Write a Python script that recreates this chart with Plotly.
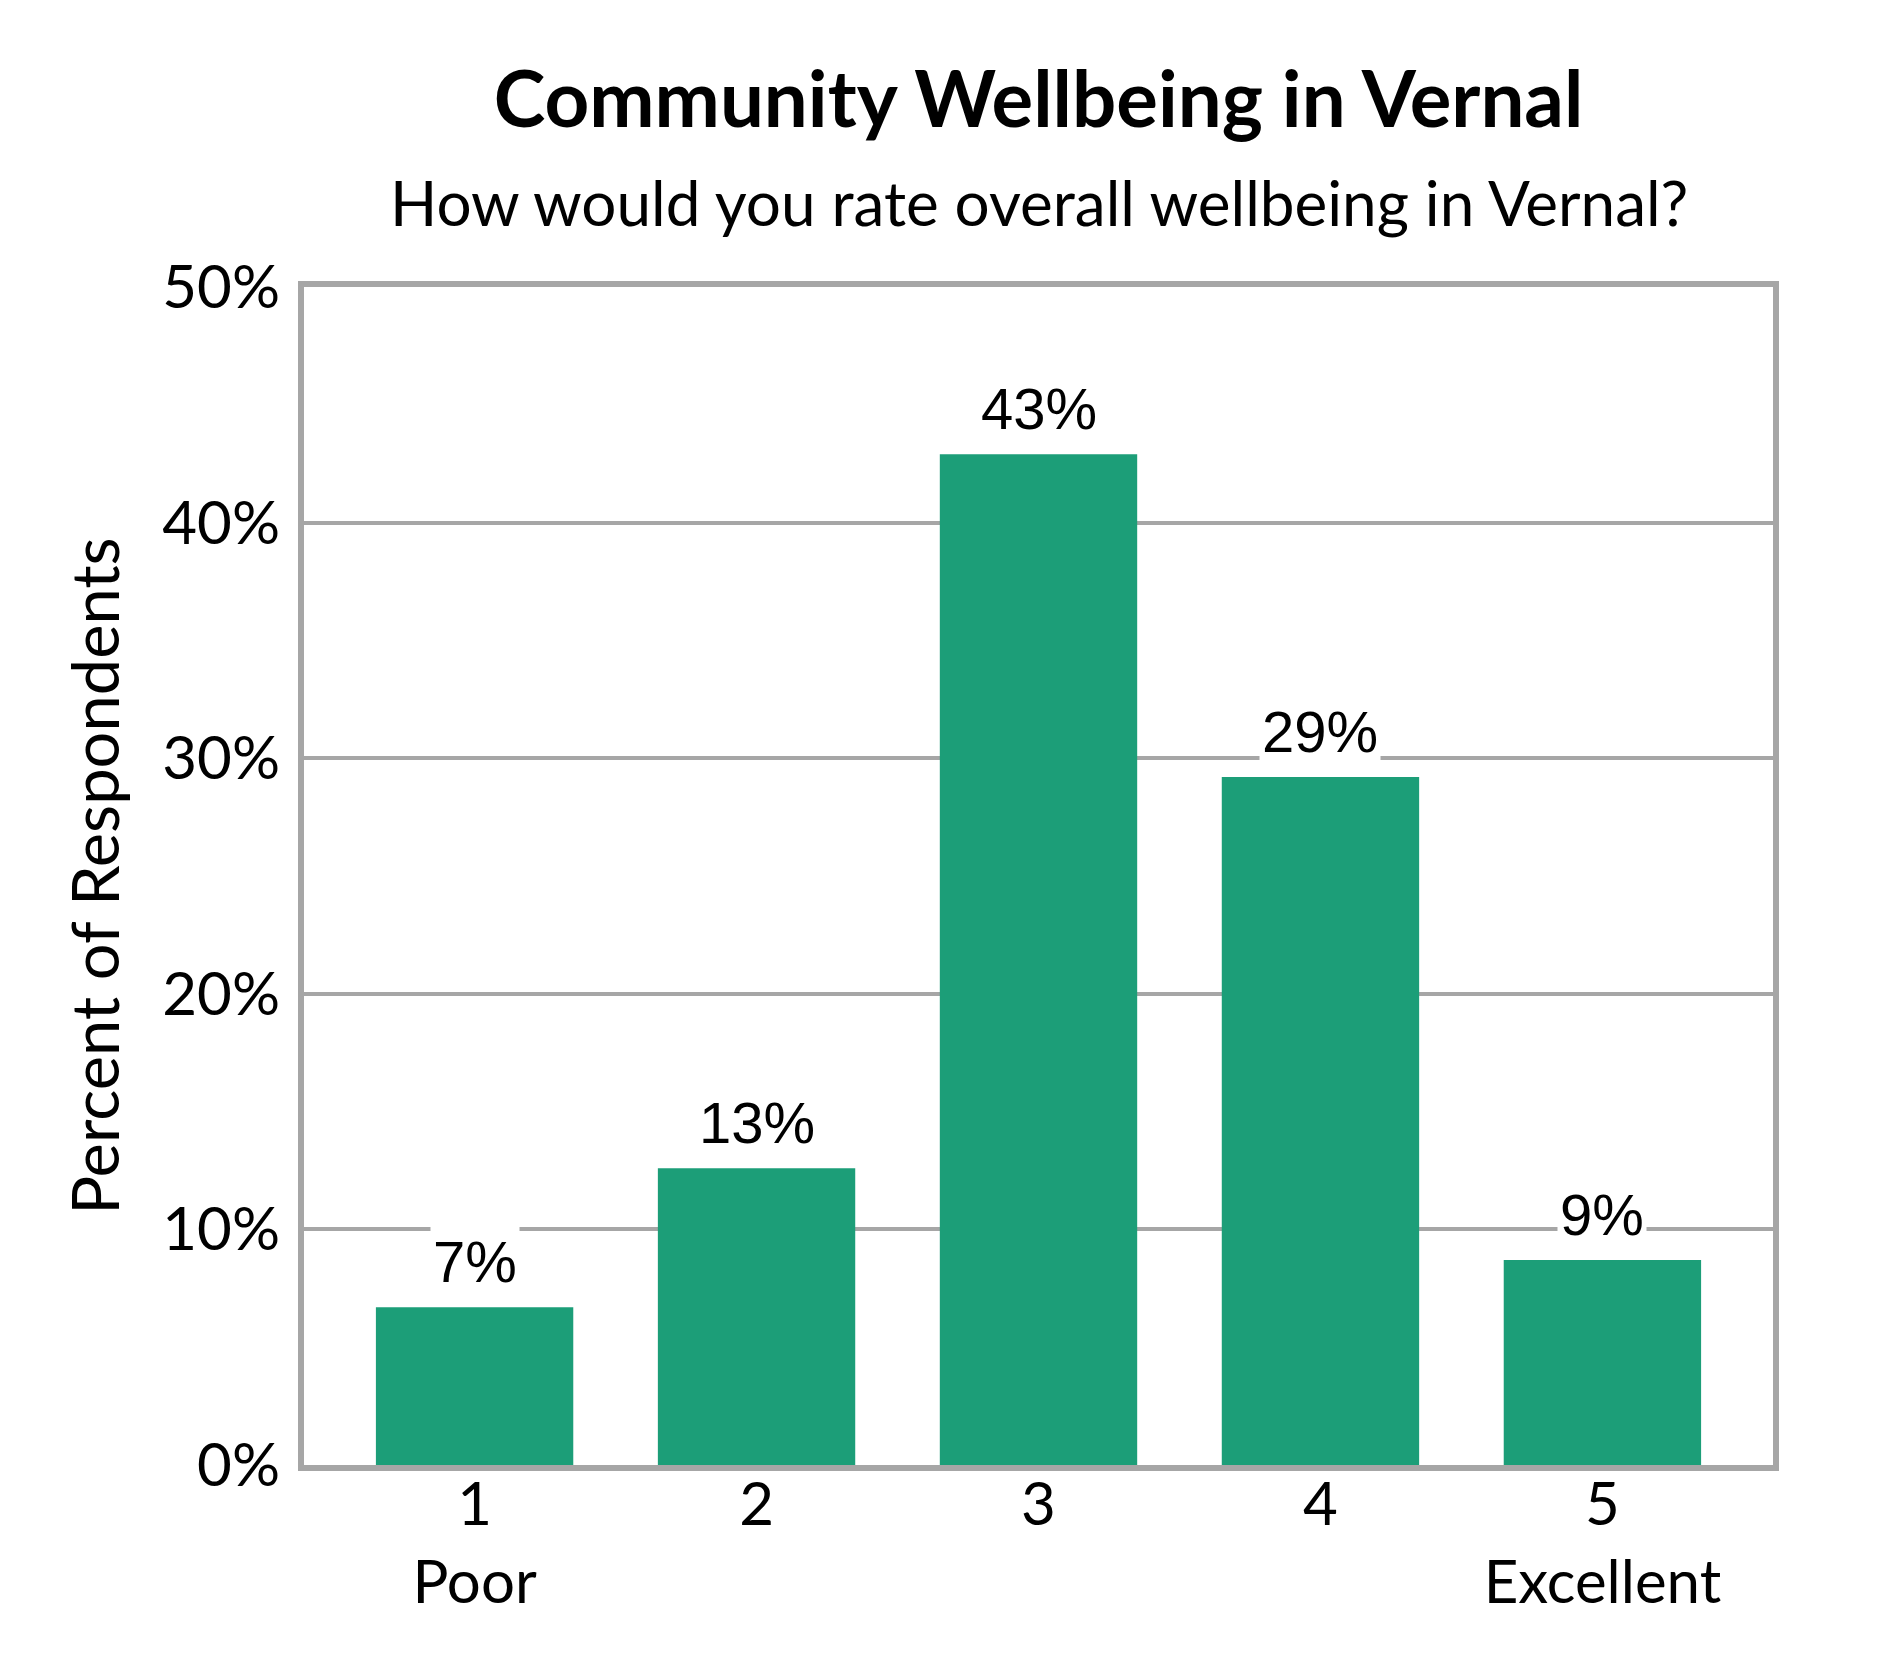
import plotly.graph_objects as go

# rating categories and share of respondents (%)
ratings = ["1", "2", "3", "4", "5"]
tick_labels = ["1<br>Poor", "2", "3", "4", "5<br>Excellent"]
percents = [6.7, 12.6, 42.9, 29.2, 8.7]
y_ticks = [0, 10, 20, 30, 40, 50]

GREEN = "#1c9e78"
GRAY = "#a6a6a6"
FONT = "Lato"

W, H = 1890, 1680
M = dict(l=296, r=125, t=279, b=223)

fig = go.Figure()
fig.add_trace(go.Bar(
    x=list(range(len(ratings))),
    y=percents,
    marker=dict(color=GREEN, line=dict(width=0)),
    hoverinfo="skip",
))

# value labels on a white box above each bar
for i, p in enumerate(percents):
    fig.add_annotation(
        x=i, y=p, xref="x", yref="y",
        text=f"{round(p)}%",
        showarrow=False,
        yanchor="bottom", yshift=10,
        bgcolor="white", borderpad=2,
        font=dict(family="Liberation Sans, Arial", size=58, color="black"),
    )

# subtitle, placed by pixel height
plot_h = H - M["t"] - M["b"]
fig.add_annotation(
    x=0.5, y=(H - M["b"] - 194) / plot_h, xref="paper", yref="paper",
    yanchor="middle",
    text="How would you rate overall wellbeing in Vernal?",
    showarrow=False,
    font=dict(family=FONT, size=62, color="black"),
)

fig.update_layout(
    width=W, height=H,
    margin=dict(**M, autoexpand=False),
    paper_bgcolor="white",
    plot_bgcolor="white",
    bargap=0.3,
    showlegend=False,
    title=dict(
        text="<b>Community Wellbeing in Vernal</b>",
        x=0.5, xref="paper", xanchor="center",
        y=1 - 92 / H, yref="container", yanchor="middle",
        font=dict(family=FONT, size=78, color="black"),
    ),
    font=dict(family=FONT, color="black"),
)

fig.update_xaxes(
    range=[-0.605, 4.605],
    tickvals=list(range(len(ratings))),
    ticktext=tick_labels,
    tickfont=dict(family=FONT, size=60, color="black"),
    showline=True, linecolor=GRAY, linewidth=6, mirror=True,
    ticks="", showgrid=False, zeroline=False,
    ticklabelstandoff=-18,
)
fig.update_yaxes(
    range=[0, 50],
    tickvals=y_ticks,
    ticktext=[f"{v}%" for v in y_ticks],
    tickfont=dict(family=FONT, size=60, color="black"),
    showline=True, linecolor=GRAY, linewidth=6, mirror=True,
    showgrid=True, gridcolor=GRAY, gridwidth=3.5,
    zeroline=False, ticks="",
    ticklabelstandoff=6,
    title=dict(text="Percent of Respondents", standoff=24,
               font=dict(family=FONT, size=65, color="black")),
)

fig.write_html("out.html")
